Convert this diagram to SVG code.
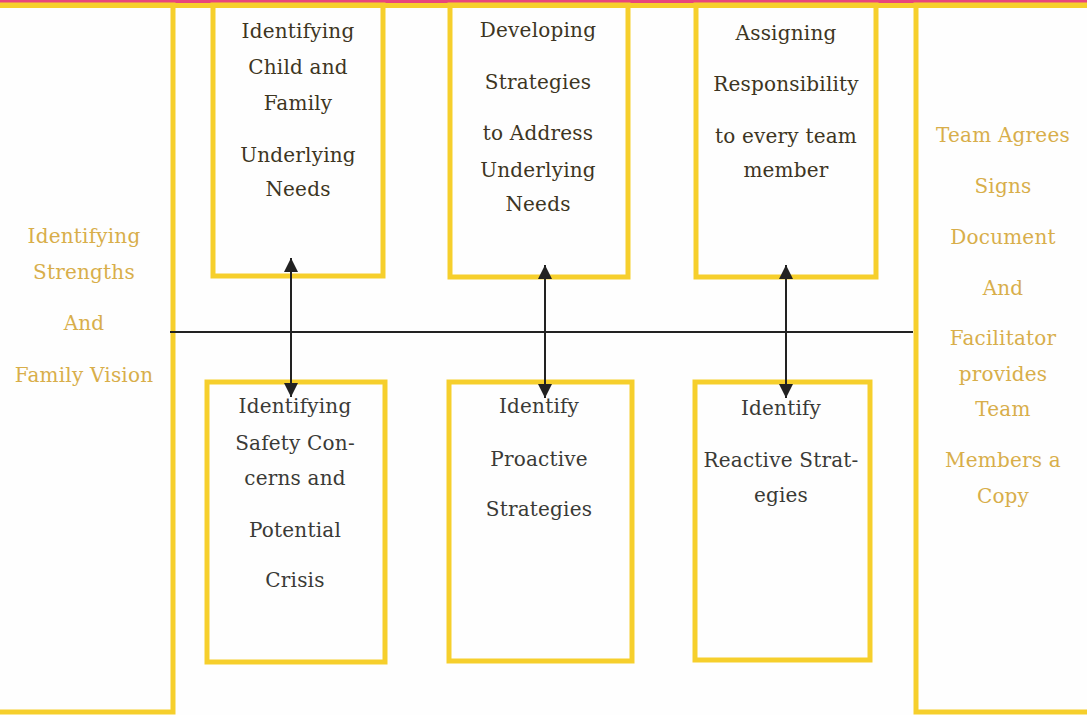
<svg xmlns="http://www.w3.org/2000/svg" width="1087" height="715" viewBox="0 0 1087 715">
<style>
.box{fill:none;stroke:#f6cf2c;stroke-width:5}
.t{font-family:"DejaVu Serif","Liberation Serif",serif;font-size:20px;letter-spacing:0.2px;text-anchor:middle;fill:#3d3522}
.b{fill:#3a3a36}
.g{fill:#d8ae4a}
.conn{stroke:#222;stroke-width:2;fill:none}
</style>
<defs>
<marker id="ah" viewBox="0 0 10 10" refX="10" refY="5" markerWidth="14" markerHeight="14" markerUnits="userSpaceOnUse" orient="auto-start-reverse">
<path d="M0,0 L10,5 L0,10 z" fill="#222"/>
</marker>
</defs>
<rect x="0" y="0" width="1087" height="715" fill="#fefefe"/>
<rect x="0" y="0" width="1087" height="4" fill="#e8467c"/>
<rect x="0" y="3" width="1087" height="5" fill="#f6cf2c"/>

<g id="left">
<rect class="box" x="-5" y="5" width="178" height="707"/>
<text class="t g" x="84" y="243">Identifying</text>
<text class="t g" x="84" y="279">Strengths</text>
<text class="t g" x="84" y="330">And</text>
<text class="t g" x="84" y="382">Family Vision</text>
</g>

<g id="right">
<rect class="box" x="916" y="5" width="180" height="707"/>
<text class="t g" x="1003" y="142">Team Agrees</text>
<text class="t g" x="1003" y="193">Signs</text>
<text class="t g" x="1003" y="244">Document</text>
<text class="t g" x="1003" y="295">And</text>
<text class="t g" x="1003" y="345">Facilitator</text>
<text class="t g" x="1003" y="381">provides</text>
<text class="t g" x="1003" y="416">Team</text>
<text class="t g" x="1003" y="467">Members a</text>
<text class="t g" x="1003" y="503">Copy</text>
</g>

<g id="boxA">
<rect class="box" x="213" y="5" width="170" height="271"/>
<text class="t" x="298" y="38">Identifying</text>
<text class="t" x="298" y="74">Child and</text>
<text class="t" x="298" y="110">Family</text>
<text class="t" x="298" y="162">Underlying</text>
<text class="t" x="298" y="196">Needs</text>
</g>

<g id="boxB">
<rect class="box" x="450" y="5" width="178" height="272"/>
<text class="t" x="538" y="37">Developing</text>
<text class="t" x="538" y="89">Strategies</text>
<text class="t" x="538" y="140">to Address</text>
<text class="t" x="538" y="177">Underlying</text>
<text class="t" x="538" y="211">Needs</text>
</g>

<g id="boxC">
<rect class="box" x="696" y="5" width="180" height="272"/>
<text class="t" x="786" y="40">Assigning</text>
<text class="t" x="786" y="91">Responsibility</text>
<text class="t" x="786" y="143">to every team</text>
<text class="t" x="786" y="177">member</text>
</g>

<g id="boxD">
<rect class="box" x="207" y="382" width="178" height="280"/>
<text class="t b" x="295" y="413">Identifying</text>
<text class="t b" x="295" y="450">Safety Con-</text>
<text class="t b" x="295" y="485">cerns and</text>
<text class="t b" x="295" y="537">Potential</text>
<text class="t b" x="295" y="587">Crisis</text>
</g>

<g id="boxE">
<rect class="box" x="449" y="382" width="183" height="279"/>
<text class="t b" x="539" y="413">Identify</text>
<text class="t b" x="539" y="466">Proactive</text>
<text class="t b" x="539" y="516">Strategies</text>
</g>

<g id="boxF">
<rect class="box" x="695" y="382" width="175" height="278"/>
<text class="t b" x="781" y="415">Identify</text>
<text class="t b" x="781" y="467">Reactive Strat-</text>
<text class="t b" x="781" y="502">egies</text>
</g>

<g id="connectors">
<line class="conn" x1="170" y1="332" x2="913" y2="332"/>
<line class="conn" x1="291" y1="258" x2="291" y2="397" marker-start="url(#ah)" marker-end="url(#ah)"/>
<line class="conn" x1="545" y1="265" x2="545" y2="398" marker-start="url(#ah)" marker-end="url(#ah)"/>
<line class="conn" x1="786" y1="265" x2="786" y2="398" marker-start="url(#ah)" marker-end="url(#ah)"/>
</g>
</svg>
